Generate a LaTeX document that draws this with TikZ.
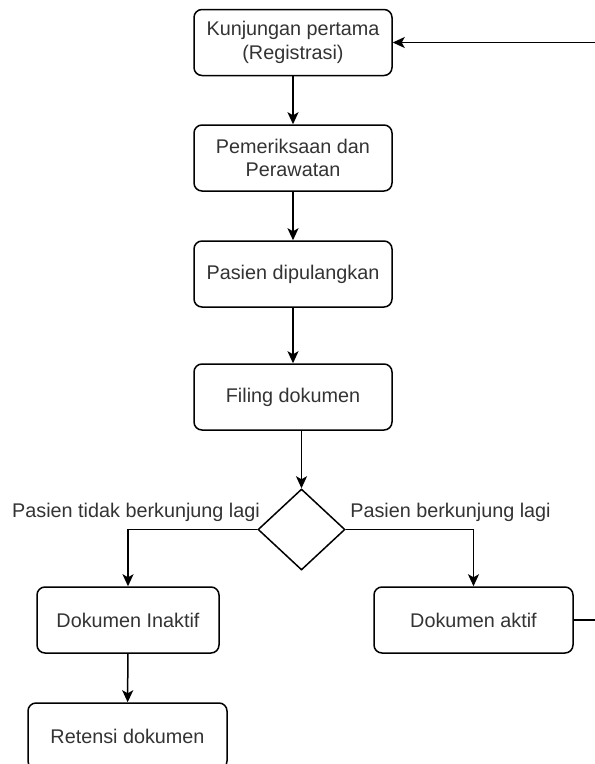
\documentclass[tikz,border=0pt]{standalone}
\usepackage{fontspec}
\setmainfont{Liberation Sans}
\usetikzlibrary{shapes.geometric, arrows.meta}
\definecolor{txtgray}{HTML}{333333}
\begin{document}
\begin{tikzpicture}[x=1pt, y=1pt,
        every node/.style={font=\fontsize{19.8pt}{23.8pt}\selectfont, text=txtgray},
        box/.style={draw, line width=1.5pt, rounded corners=8pt, minimum width=198pt, minimum height=66pt, align=center, inner sep=0pt},
        choice/.style={draw, line width=1.5pt, diamond, aspect=1.07, minimum width=87pt, minimum height=81pt, inner sep=0pt},
        arrow/.style={line width=1.5pt, -{Stealth[length=12pt, width=11pt, inset=3pt]}}]
        \useasboundingbox (0, 0) rectangle (595, -764);
        % main line
        \node[box] (regis) at (293, -42.5) {Kunjungan pertama\\(Registrasi)};
        \node[box] (periksa) at (293, -158) {Pemeriksaan dan\\Perawatan};
        \node[box] (pulang) at (293, -274) {Pasien dipulangkan};
        \node[box] (filing) at (293, -397) {Filing dokumen};
        \node[choice] (cek) at (301.5, -529.5) {};
        % branches
        \node[box, minimum width=182pt] (inaktif) at (128, -620) {Dokumen Inaktif};
        \node[box, minimum width=199pt] (aktif) at (473.5, -620) {Dokumen aktif};
        \node[box, minimum width=199pt] (retensi) at (127.5, -736) {Retensi dokumen};
        \node (tidak) at (136, -512) {Pasien tidak berkunjung lagi};
        \node (lagi) at (450.5, -512) {Pasien berkunjung lagi};
        \draw[arrow] (regis) -- (periksa);
        \draw[arrow] (periksa) -- (pulang);
        \draw[arrow] (pulang) -- (filing);
        \draw[arrow] (cek.north |- filing.south) -- (cek.north);
        \draw[arrow] (cek.west) -| (inaktif.north);
        \draw[arrow] (cek.east) -| (aktif.north);
        \draw[arrow] (inaktif) -- (retensi);
        \draw[arrow] (aktif.east) -- ++(40, 0) |- (regis.east);
\end{tikzpicture}
\end{document}
